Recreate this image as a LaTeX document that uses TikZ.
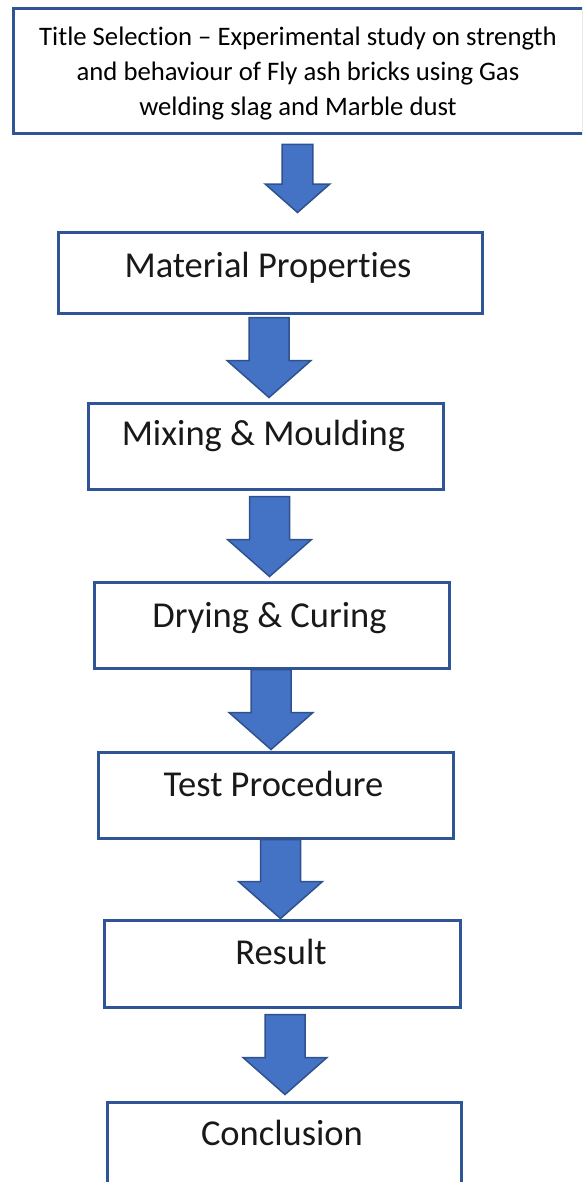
\documentclass[tikz,border=0pt]{standalone}
\usepackage{fontspec}
\setmainfont{Carlito}[Ligatures={TeX,NoCommon}]
\usetikzlibrary{calc,positioning}
\definecolor{boxblue}{HTML}{2F5597}
\definecolor{arrowfill}{HTML}{4472C4}
\definecolor{arrowline}{HTML}{2F528F}
\tikzset
{
    stepbox/.style    = {rectangle, draw=boxblue, line width=3pt, fill=white, inner sep=0pt},
    steplabel/.style  = {inner sep=0pt, anchor=base, text=black!90, font=\fontsize{36.5}{42}\selectfont},
    titlelabel/.style = {inner sep=0pt, align=center, text=black, font=\fontsize{26.7}{35}\selectfont},
    blockarrow/.style = {fill=arrowfill, draw=arrowline, line width=1.5pt, line join=miter}
}
% block arrow: from, to, x, top gap, tip gap, size
\newcommand{\flowarrow}[6]{%
  \draw[blockarrow] let \p1 = (#1.south), \p2 = (#2.north) in
    (#3pt-20pt*#6, \y1-#4pt) -- (#3pt+20pt*#6, \y1-#4pt)
    -- (#3pt+20pt*#6, \y2+#5pt+37pt*#6) -- (#3pt+42pt*#6, \y2+#5pt+37pt*#6)
    -- (#3pt, \y2+#5pt)
    -- (#3pt-42pt*#6, \y2+#5pt+37pt*#6) -- (#3pt-20pt*#6, \y2+#5pt+37pt*#6) -- cycle;
}

\begin{document}
\begin{tikzpicture}[x=1pt, y=-1pt]
\useasboundingbox (0,0) rectangle (582,1182);
\clip (0,0) rectangle (582,1182);

% boxes
\node[stepbox, minimum width=570pt, minimum height=125pt] (b1) at (298,71.5) {};
\node[stepbox, minimum width=424pt, minimum height=80pt] (b2) at (270,273) {};
\node[stepbox, minimum width=355pt, minimum height=86pt] (b3) at (265.5,446) {};
\node[stepbox, minimum width=355pt, minimum height=86pt] (b4) at (271.5,625) {};
\node[stepbox, minimum width=355pt, minimum height=86pt] (b5) at (275.5,795) {};
\node[stepbox, minimum width=356pt, minimum height=87pt] (b6) at (282,963.5) {};
\node[stepbox, minimum width=354pt, minimum height=100pt] (b7) at (284,1152) {};

% labels
\node[titlelabel] (t1) at (298,73.5) {Title Selection -- Experimental study on strength\\and behaviour of Fly ash bricks using Gas\\welding slag and Marble dust};
\node[steplabel] (t2) at ([xshift=-2pt, yshift=-46pt]b2.north) {Material Properties};
\node[steplabel] (t3) at ([xshift=-2pt, yshift=-44pt]b3.north) {Mixing \& Moulding};
\node[steplabel] (t4) at ([xshift=-2pt, yshift=-47pt]b4.north) {Drying \& Curing};
\node[steplabel] (t5) at ([xshift=-2pt, yshift=-46pt]b5.north) {Test Procedure};
\node[steplabel] (t6) at ([xshift=-1pt, yshift=-46pt]b6.north) {Result};
\node[steplabel] (t7) at ([xshift=-2pt, yshift=-45pt]b7.north) {Conclusion};

% arrows
\flowarrow{b1}{b2}{297.5}{9}{19}{0.77}
\flowarrow{b2}{b3}{269}{3}{4}{1}
\flowarrow{b3}{b4}{269.5}{6}{4}{1}
\flowarrow{b4}{b5}{271}{0}{1}{1}
\flowarrow{b5}{b6}{280.5}{0}{0}{1}
\flowarrow{b6}{b7}{285}{6}{6}{1}
\end{tikzpicture}
\end{document}
